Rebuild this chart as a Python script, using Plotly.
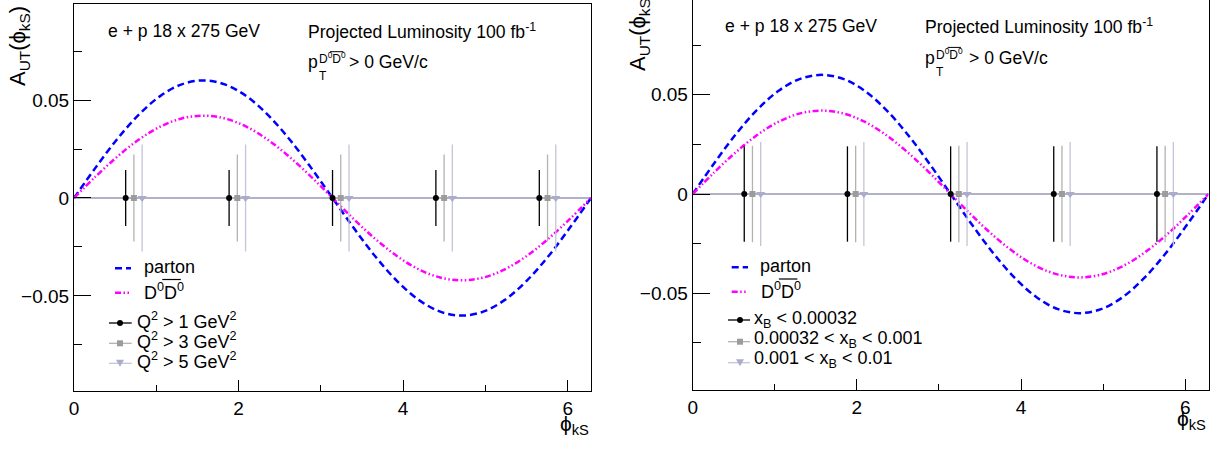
import plotly.graph_objects as go

W, H = 1223, 449
FONT = "Liberation Sans, Arial, Helvetica, sans-serif"

# ---------------- data ----------------
phi_bins = [0.628, 1.885, 3.142, 4.398, 5.655]
series_shift = [0.0, 0.1, 0.2]

# model curves
phi_curve = [0.0, 0.262, 0.524, 0.785, 1.047, 1.309, 1.571, 1.833, 2.094, 2.356, 2.618, 2.880,
             3.142, 3.403, 3.665, 3.927, 4.189, 4.451, 4.712, 4.974, 5.236, 5.498, 5.760, 6.021, 6.283]
aut_parton = [0.0, 0.0155, 0.030, 0.0424, 0.052, 0.058, 0.060, 0.058, 0.052, 0.0424, 0.030, 0.0155,
              0.0, -0.0155, -0.030, -0.0424, -0.052, -0.058, -0.060, -0.058, -0.052, -0.0424, -0.030, -0.0155, 0.0]
aut_dd = [0.0, 0.0109, 0.021, 0.0297, 0.0364, 0.0406, 0.042, 0.0406, 0.0364, 0.0297, 0.021, 0.0109,
          0.0, -0.0109, -0.021, -0.0297, -0.0364, -0.0406, -0.042, -0.0406, -0.0364, -0.0297, -0.021, -0.0109, 0.0]

# left panel: Q^2 selections
q2_labels = ["Q<sup>2</sup> &gt; 1 GeV<sup>2</sup>",
             "Q<sup>2</sup> &gt; 3 GeV<sup>2</sup>",
             "Q<sup>2</sup> &gt; 5 GeV<sup>2</sup>"]
aut_q2 = [[0.0, 0.0, 0.0, 0.0, 0.0],
          [0.0, 0.0, 0.0, 0.0, 0.0],
          [0.0, 0.0, 0.0, 0.0, 0.0]]
err_q2 = [[0.0143, 0.0143, 0.0143, 0.0143, 0.0143],
          [0.0222, 0.0222, 0.0222, 0.0222, 0.0222],
          [0.0273, 0.0273, 0.0273, 0.0273, 0.0273]]

# right panel: x_B selections
xb_labels = ["x<sub>B</sub> &lt; 0.00032",
             "0.00032 &lt; x<sub>B</sub> &lt; 0.001",
             "0.001 &lt; x<sub>B</sub> &lt; 0.01"]
aut_xb = [[0.0, 0.0, 0.0, 0.0, 0.0],
          [0.0, 0.0, 0.0, 0.0, 0.0],
          [0.0, 0.0, 0.0, 0.0, 0.0]]
err_xb = [[0.0240, 0.0240, 0.0240, 0.0240, 0.0240],
          [0.0243, 0.0243, 0.0243, 0.0243, 0.0243],
          [0.0262, 0.0262, 0.0262, 0.0262, 0.0262]]

# ---------------- style ----------------
pt_colors = ["#000000", "#9c9c9c", "#ababcb"]
bar_colors = ["#000000", "#b2b2b2", "#c4c4da"]
pt_symbols = ["circle", "square", "triangle-down"]
pt_sizes = [6, 6, 8]
BLUE, MAGENTA = "#0000ff", "#ff00ff"
DASH_BLUE = "7px,4px"
DASH_MAG = "6px,2.5px,1.5px,2.5px,1.5px,2.5px"
PHI = "\u03d5"


def px(x):
    return x / W


def py(y):
    return 1 - y / H


fig = go.Figure()

panels = [
    dict(xa="x", ya="y", labels=q2_labels, vals=aut_q2, errs=err_q2),
    dict(xa="x2", ya="y2", labels=xb_labels, vals=aut_xb, errs=err_xb),
]

for p in panels:
    fig.add_trace(go.Scatter(x=phi_curve, y=aut_parton, mode="lines", xaxis=p["xa"], yaxis=p["ya"],
                             line=dict(color=BLUE, width=2.5, dash=DASH_BLUE, shape="spline", smoothing=1.0),
                             showlegend=False, hoverinfo="skip"))
    fig.add_trace(go.Scatter(x=phi_curve, y=aut_dd, mode="lines", xaxis=p["xa"], yaxis=p["ya"],
                             line=dict(color=MAGENTA, width=2.5, dash=DASH_MAG, shape="spline", smoothing=1.0),
                             showlegend=False, hoverinfo="skip"))
    for i in range(3):
        fig.add_trace(go.Scatter(
            x=[b + series_shift[i] for b in phi_bins], y=p["vals"][i], mode="markers",
            xaxis=p["xa"], yaxis=p["ya"], name=p["labels"][i], showlegend=False,
            marker=dict(symbol=pt_symbols[i], size=pt_sizes[i], color=pt_colors[i], line=dict(width=0)),
            error_y=dict(type="data", array=p["errs"][i], visible=True, color=bar_colors[i],
                         thickness=1.3, width=0)))

axis_common = dict(showline=True, linecolor="black", linewidth=1, ticks="inside", tickcolor="black",
                   showgrid=False, zeroline=False, automargin=False,
                   tickfont=dict(family=FONT, size=19, color="black"))
xcommon = dict(axis_common, range=[0, 6.2832], tickvals=[0, 2, 4, 6], ticklen=11,
               minor=dict(ticks="inside", ticklen=6, tick0=0, dtick=1, tickcolor="black"))
ycommon = dict(axis_common, tickvals=[-0.05, 0, 0.05], ticklen=17,
               minor=dict(ticks="inside", ticklen=8, tick0=0, dtick=0.025, tickcolor="black"))

fig.update_layout(
    template="none",
    width=W, height=H, margin=dict(l=0, r=0, t=0, b=0, pad=0), autosize=False,
    paper_bgcolor="white", plot_bgcolor="white", showlegend=False,
    font=dict(family=FONT, color="black"),
    xaxis=dict(xcommon, domain=[px(74), px(591)], anchor="y", mirror=True),
    yaxis=dict(ycommon, domain=[py(391), py(4)], anchor="x", range=[-0.0985, 0.099], mirror=True),
    xaxis2=dict(xcommon, domain=[px(692.7), px(1208.5)], anchor="y2", mirror=False),
    yaxis2=dict(ycommon, domain=[py(390), 1.0], anchor="x2", range=[-0.0987, 0.0977], mirror=True),
)

shapes = []
annots = []


def ann(x, y, text, size, xanchor="left", yanchor="middle", angle=0):
    annots.append(dict(x=px(x), y=py(y), xref="paper", yref="paper", text=text, showarrow=False,
                       xanchor=xanchor, yanchor=yanchor, textangle=angle,
                       font=dict(family=FONT, size=size, color="black")))


def hline(x0, x1, y, color, width=1, dash=None):
    shapes.append(dict(type="line", xref="paper", yref="paper", x0=px(x0), x1=px(x1), y0=py(y), y1=py(y),
                       line=dict(color=color, width=width, dash=dash)))


def marker(kind, cx, cy, color):
    if kind == "circle":
        shapes.append(dict(type="circle", xref="paper", yref="paper", x0=px(cx - 3), x1=px(cx + 3),
                           y0=py(cy + 3), y1=py(cy - 3), fillcolor=color, line=dict(width=0)))
    elif kind == "square":
        shapes.append(dict(type="rect", xref="paper", yref="paper", x0=px(cx - 3), x1=px(cx + 3),
                           y0=py(cy + 3), y1=py(cy - 3), fillcolor=color, line=dict(width=0)))
    else:
        path = "M %f,%f L %f,%f L %f,%f Z" % (px(cx - 4), py(cy - 3.5), px(cx + 4), py(cy - 3.5), px(cx), py(cy + 3.5))
        shapes.append(dict(type="path", xref="paper", yref="paper", path=path, fillcolor=color, line=dict(width=0)))


# zero lines
for xa, ya in [("x", "y"), ("x2", "y2")]:
    shapes.append(dict(type="line", xref=xa + " domain", yref=ya, x0=0, x1=1, y0=0, y1=0, layer="below",
                       line=dict(color="#9999b3", width=1.3)))

DD = "D<sup>0</sup>D<sup>0</sup>"

# panel-specific text layout (pixel positions)
layouts = [
    dict(ytitle=(3, 88), xtitle=(591, 410), ep=(106, 31.3), lumi=(305.7, 31.3), p=(305.7, 62.5),
         gt=(346.7, 62.5), T=(316.7, 76.5), D=(316.7, 58), leg_line=(115, 131), leg_txt=141.7,
         leg_y=[(268.3, 266.9), (292.7, 291.0)], pts_line=(109, 131.7), pts_mx=120, pts_txt=135,
         pts_y=[(323.0, 320.5), (343.3, 340.8), (363.3, 360.8)], labels=q2_labels),
    dict(ytitle=(623, 73), xtitle=(1208, 405), ep=(723.3, 26.3), lumi=(923.3, 26.3), p=(923.3, 58.2),
         gt=(966.7, 58.2), T=(934.3, 72), D=(934.3, 53.7), leg_line=(731.7, 748), leg_txt=758.3,
         leg_y=[(267.3, 266.3), (291.7, 290.5)], pts_line=(728, 750), pts_mx=740, pts_txt=751.7,
         pts_y=[(320.0, 319.2), (341.7, 339.2), (362.7, 359.5)], labels=xb_labels),
]

for L in layouts:
    ann(L["ytitle"][0], L["ytitle"][1], "A<sub>UT</sub>(" + PHI + "<sub>kS</sub>)", 22, "left", "bottom", -90)
    ann(L["xtitle"][0], L["xtitle"][1], PHI + "<sub>kS</sub>", 21, "right", "top")
    ann(L["ep"][0], L["ep"][1], "e + p 18 x 275 GeV", 17.6)
    ann(L["lumi"][0], L["lumi"][1], "Projected Luminosity 100 fb<sup>-1</sup>", 17.6)
    ann(L["p"][0], L["p"][1], "p", 17.6)
    ann(L["gt"][0], L["gt"][1], "&gt; 0 GeV/c", 17.6)
    ann(L["T"][0], L["T"][1], "T", 12)
    ann(L["D"][0], L["D"][1], DD, 12)
    # overline over second D0 in the superscript
    ox = L["D"][0] + 12 * 1.111
    hline(ox, ox + 13.3, L["D"][1] - 6.3, "black", 1)

    # legend: curves
    (ly1, ty1), (ly2, ty2) = L["leg_y"]
    hline(L["leg_line"][0], L["leg_line"][1], ly1, BLUE, 2.5, DASH_BLUE)
    hline(L["leg_line"][0], L["leg_line"][1], ly2, MAGENTA, 2.5, DASH_MAG)
    ann(L["leg_txt"], ty1, "parton", 18)
    ann(L["leg_txt"] + 0.6, ty2, DD, 18)
    ox = L["leg_txt"] + 0.6 + 18 * 1.111
    hline(ox, ox + 18.5, ty2 - 11.5, "black", 1.2)

    # legend: points
    kinds = ["circle", "square", "triangle"]
    for i in range(3):
        my, tyy = L["pts_y"][i]
        hline(L["pts_line"][0], L["pts_line"][1], my, bar_colors[i] if i else "black", 1.3)
        marker(kinds[i], L["pts_mx"], my, pt_colors[i])
        ann(L["pts_txt"], tyy, L["labels"][i], 18)

fig.update_layout(shapes=shapes, annotations=annots)
fig.write_html("out.html", config={"displayModeBar": False},
               post_script="document.body.style.margin='0px';document.body.style.padding='0px';"
                           "document.body.style.overflow='hidden';")
